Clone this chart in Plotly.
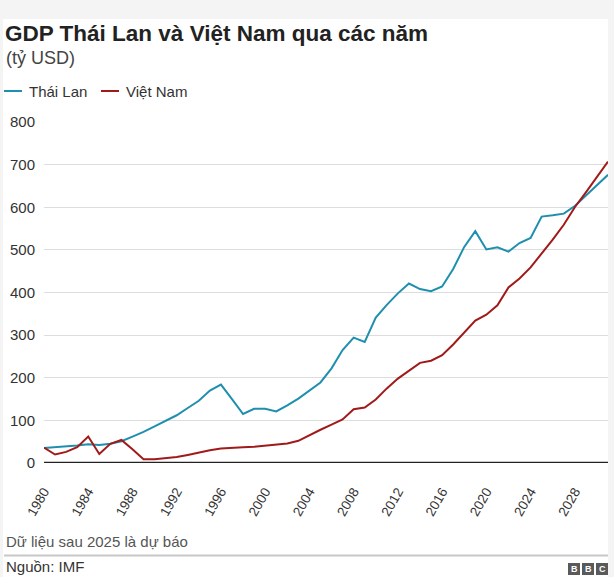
import plotly.graph_objects as go

# ---- data ----
years = list(range(1980, 2032))
thai_lan = [35, 37, 38, 41, 44, 42, 45, 51, 62, 73,
            86, 99, 112, 129, 146, 170, 184, 150, 115, 127,
            127, 121, 135, 151, 171, 189, 222, 265, 294, 284,
            341, 371, 398, 421, 408, 403, 414, 455, 507, 544,
            501, 506, 496, 516, 528, 578, 581, 585, 603, 627,
            652, 676]
viet_nam = [36, 20, 26, 37, 62, 21, 45, 54, 32, 9,
            9, 11, 14, 19, 25, 30, 34, 36, 37, 38,
            41, 43, 46, 52, 66, 78, 90, 102, 126, 130,
            149, 175, 198, 216, 235, 240, 253, 278, 306, 334,
            348, 370, 412, 433, 459, 491, 524, 559, 600, 635,
            671, 707]
x_ticks = list(range(1980, 2029, 4))
x_tick_labels = [str(y) for y in x_ticks]
y_ticks = [0, 100, 200, 300, 400, 500, 600, 700, 800]

title = "GDP Thái Lan và Việt Nam qua các năm"
subtitle = "(tỷ USD)"
series_names = ["Thái Lan", "Việt Nam"]
note = "Dữ liệu sau 2025 là dự báo"
source = "Nguồn: IMF"

# ---- style ----
W, H = 614, 577
ML, MR, MT, MB = 44, 6, 122, 114
PW, PH = W - ML - MR, H - MT - MB
FONT = "Liberation Sans, Arial, Helvetica, sans-serif"
C_TH = "#1f8fae"
C_VN = "#a11a1a"
BG = "#f4f4f4"


def px(x):
    return (x - ML) / PW


def py(y):
    return (H - MB - y) / PH


fig = go.Figure()
fig.add_trace(go.Scatter(x=years, y=thai_lan, mode="lines", name=series_names[0],
                         line=dict(color=C_TH, width=2), showlegend=False))
fig.add_trace(go.Scatter(x=years, y=viet_nam, mode="lines", name=series_names[1],
                         line=dict(color=C_VN, width=2), showlegend=False))

shapes = [
    # white card over the grey page
    dict(type="rect", xref="paper", yref="paper", x0=px(3), x1=px(608), y0=py(H + 5), y1=py(19),
         fillcolor="white", line=dict(width=0), layer="below"),
    # legend lines
    dict(type="line", xref="paper", yref="paper", x0=px(4), x1=px(22), y0=py(91), y1=py(91),
         line=dict(color=C_TH, width=2)),
    dict(type="line", xref="paper", yref="paper", x0=px(101), x1=px(119), y0=py(91), y1=py(91),
         line=dict(color=C_VN, width=2)),
    # divider
    dict(type="line", xref="paper", yref="paper", x0=px(4), x1=px(608), y0=py(555.5), y1=py(555.5),
         line=dict(color="#c8c8c8", width=2)),
]
# BBC blocks
for i, ch in enumerate("BBC"):
    x0 = 568 + i * 14
    shapes.append(dict(type="rect", xref="paper", yref="paper", x0=px(x0), x1=px(x0 + 12),
                       y0=py(575), y1=py(563), fillcolor="#5a5a5a", line=dict(width=0)))

annotations = [
    dict(text=f"<b>{title}</b>", x=px(3), y=py(33), font=dict(size=22.5, color="#222222")),
    dict(text=subtitle, x=px(4), y=py(58), font=dict(size=18, color="#444444")),
    dict(text=series_names[0], x=px(27), y=py(91), font=dict(size=15, color="#333333")),
    dict(text=series_names[1], x=px(124), y=py(91), font=dict(size=15, color="#333333")),
    dict(text=note, x=px(4), y=py(541), font=dict(size=15, color="#555555")),
    dict(text=source, x=px(4), y=py(566), font=dict(size=15, color="#333333")),
]
for a in annotations:
    a.update(xref="paper", yref="paper", xanchor="left", yanchor="middle", showarrow=False)
    a["font"]["family"] = FONT
for i, ch in enumerate("BBC"):
    annotations.append(dict(text=f"<b>{ch}</b>", xref="paper", yref="paper", x=px(568 + i * 14 + 6),
                            y=py(569), xanchor="center", yanchor="middle", showarrow=False,
                            font=dict(family=FONT, size=9, color="white")))

fig.update_layout(
    width=W, height=H, autosize=False,
    margin=dict(l=ML, r=MR, t=MT, b=MB, pad=0),
    paper_bgcolor=BG, plot_bgcolor="white",
    font=dict(family=FONT, size=15, color="#333333"),
    shapes=shapes, annotations=annotations,
    showlegend=False,
    xaxis=dict(range=[1980, 2031], tickmode="array", tickvals=x_ticks, ticktext=x_tick_labels,
               tickangle=-60, showgrid=False, zeroline=False, showline=False,
               ticks="", ticklabelstandoff=17, tickfont=dict(size=13.5, color="#333333"),
               fixedrange=True),
    yaxis=dict(range=[0, 800], tickmode="array", tickvals=y_ticks, showgrid=True,
               gridcolor="#dddddd", gridwidth=1, zeroline=False, showline=False,
               ticks="", ticklabelstandoff=8, tickfont=dict(size=15, color="#333333"),
               fixedrange=True),
)
# baseline at zero
fig.add_shape(type="line", xref="x", yref="y", x0=1980, x1=2031, y0=0, y1=0,
              line=dict(color="#222222", width=2.5))

fig.write_html("out.html")
